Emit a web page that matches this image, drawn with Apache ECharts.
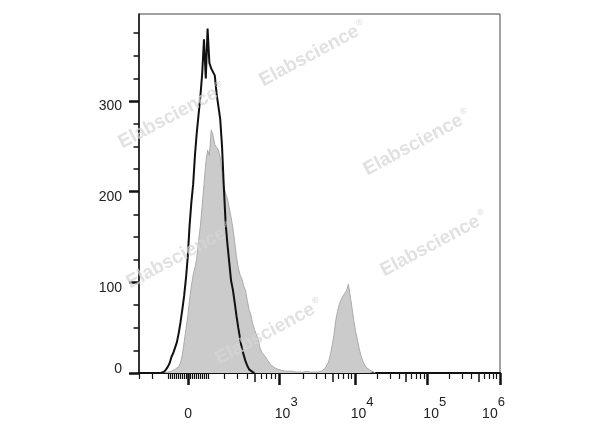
<!DOCTYPE html>
<html><head><meta charset="utf-8">
<script src="https://cdn.jsdelivr.net/npm/echarts@6/dist/echarts.min.js"></script>
<style>html,body{margin:0;padding:0;background:#fff}#c{width:600px;height:427px}</style>
</head><body><div id="c"></div>
<script>
// ---------------- data ----------------
// histogram bins on a 0..1000 display-channel axis (biexponential display)
const binStart = 60;
const binWidth = 5;
const stainedCounts = [
  0,0,0.5,1,1,2,2,3,4,5,7,11,20,34,48,62,80,96,108,116,
  126,146,162,185,208,232,246,240,268,262,252,250,246,238,220,206,198,192,182,172,
  160,145,128,116,108,104,96,91,80,70,64,54,48,42,37,28,23,21,18,15,
  12,9,7,6,5,4,3,3,2,
  2,2,2,1,2,1,1,2,1,1,1,1,2,1,1,1,1,1,1,
  1,2,3,5,7,12,20,30,42,58,68,76,81,85,88,91,98,85,72,58,
  46,37,27,19,13,9,6,4,3,2,1,0
];
const controlCounts = [
  0,0.5,1.5,4,7,11,18,22,28,34,44,56,70,85,104,128,162,188,208,240,
  265,285,305,330,368,325,380,342,336,338,328,308,310,280,250,205,165,142,122,102,
  92,78,63,50,38,27,20,13,8,4,2,1,0
];
const yMax = 396;
const yLabelValues = [0, 100, 200, 300];
const yMinorValues = [25,50,75,125,150,175,225,250,275,325,350,375];
const xMajorValues = [0, 1e3, 1e4, 1e5, 1e6];
const xMajorExps = ['', '3', '4', '5', '6'];
const xMidValues = [500, 5e3, 5e4, 5e5];
const xMinorValues = [-300,-200,-100,-90,-80,-70,-60,-50,-40,-30,-20,-10,
  10,20,30,40,50,60,70,80,90,100,200,300,400,600,700,800,900,
  2e3,3e3,4e3,6e3,7e3,8e3,9e3,2e4,3e4,4e4,6e4,7e4,8e4,9e4,
  2e5,3e5,4e5,6e5,7e5,8e5,9e5];
const watermarkText = 'Elabscience';

// ---------------- biexponential (logicle-like) scale ----------------
const T = 1e6, M = 4.8, W = 0.48, A = 0.2, CH_MAX = 1000;
const LN10 = Math.LN10, wN = W * LN10, mN = M * LN10;
function solveP(w) {
  let lo = 1.000001, hi = 100;
  for (let i = 0; i < 200; i++) {
    const mid = (lo + hi) / 2;
    const f = 2 * mid * Math.log(mid) / (mid + 1);
    if (f < w) lo = mid; else hi = mid;
  }
  return (lo + hi) / 2;
}
const P = solveP(wN);
function S(d) {
  const x = d * LN10;
  if (x >= wN) return T * Math.exp(-(mN - wN)) * (Math.exp(x - wN) - P * P * Math.exp(-(x - wN) / P) + P * P - 1);
  return -S(2 * W - d);
}
function valueToChannel(v) {
  let lo = -A - 2, hi = M + 1;
  for (let i = 0; i < 100; i++) {
    const mid = (lo + hi) / 2;
    if (S(mid) < v) lo = mid; else hi = mid;
  }
  const d = (lo + hi) / 2;
  return (d + A) / (M + A) * CH_MAX;
}
const majorCh = xMajorValues.map(valueToChannel);
const midCh = xMidValues.map(valueToChannel);
const minorCh = xMinorValues.map(valueToChannel);

const stainedData = stainedCounts.map((c, i) => [binStart + i * binWidth, c]);
const controlData = controlCounts.map((c, i) => [binStart + i * binWidth, c]);

const FONT = '"Liberation Sans", Arial, Helvetica, sans-serif';
const TXT = '#222';

function baseX(extra) {
  return Object.assign({
    type: 'value', min: 0, max: CH_MAX, position: 'bottom', offset: 0,
    axisLine: { show: false, onZero: false },
    splitLine: { show: false },
    axisLabel: { show: false },
    axisTick: { show: false }
  }, extra);
}

const xAxes = [
  baseX({
    axisLine: { show: true, onZero: false, lineStyle: { color: '#111', width: 2 } },
    axisTick: { show: true, customValues: majorCh, length: 12, lineStyle: { color: '#111', width: 2.5 } },
    axisLabel: {
      show: true, customValues: majorCh, margin: 23, color: TXT, fontFamily: FONT, fontSize: 14,
      formatter: function (v) {
        let idx = 0, best = 1e9;
        majorCh.forEach((c, i) => { if (Math.abs(c - v) < best) { best = Math.abs(c - v); idx = i; } });
        const e = xMajorExps[idx];
        if (!e) return '{z|0}';
        if (idx === xMajorExps.length - 1) return '{t0|10}{supR|' + e + '}';
        return '{t|10}{sup|' + e + '}';
      },
      rich: {
        z: { fontSize: 14, fontFamily: FONT, color: TXT, padding: [11, 0, 0, 0], verticalAlign: 'bottom' },
        t: { fontSize: 14, fontFamily: FONT, color: TXT, padding: [0, 0, 0, 14], verticalAlign: 'bottom' },
        t0: { fontSize: 14, fontFamily: FONT, color: TXT, verticalAlign: 'bottom' },
        sup: { fontSize: 13, fontFamily: FONT, color: TXT, padding: [0, 0, 12, 0], verticalAlign: 'bottom' },
        supR: { fontSize: 13, fontFamily: FONT, color: TXT, padding: [0, 13, 12, 0], verticalAlign: 'bottom' }
      }
    }
  }),
  baseX({ axisTick: { show: true, customValues: midCh, length: 9, lineStyle: { color: '#111', width: 1.5 } } }),
  baseX({ axisTick: { show: true, customValues: minorCh, length: 6, lineStyle: { color: '#111', width: 1.2 } } })
];

const yAxes = [
  {
    type: 'value', min: 0, max: yMax, position: 'left', offset: 0,
    axisLine: { show: true, onZero: false, lineStyle: { color: '#111', width: 1.5 } },
    splitLine: { show: false },
    axisTick: { show: true, customValues: yLabelValues, length: 10, lineStyle: { color: '#111', width: 2.5 } },
    axisLabel: {
      show: true, customValues: yLabelValues, margin: 17, color: TXT, fontFamily: FONT, fontSize: 14,
      formatter: v => (v === 0 ? '{z|0}' : '{n|' + v + '}'),
      rich: {
        n: { fontSize: 14, fontFamily: FONT, color: TXT, padding: [11, 0, 0, 0] },
        z: { fontSize: 14, fontFamily: FONT, color: TXT, padding: [0, 0, 7, 0] }
      }
    }
  },
  {
    type: 'value', min: 0, max: yMax, position: 'left', offset: 0,
    axisLine: { show: false },
    splitLine: { show: false },
    axisLabel: { show: false },
    axisTick: { show: true, customValues: yMinorValues, length: 5.5, lineStyle: { color: '#111', width: 1.5 } }
  }
];

const wmPos = [[313, 54], [172, 116], [417, 143], [180, 256], [269, 332], [434, 244]];
const wmFill = 'rgba(214,214,214,0.72)';
const graphics = wmPos.map(p => ({
  type: 'text', x: p[0], y: p[1], rotation: 0.49, z: 100, silent: true,
  style: {
    text: watermarkText + '{r|®}', fill: wmFill, font: 'bold 19px ' + FONT,
    align: 'center', verticalAlign: 'middle',
    rich: { r: { fontSize: 9, fontWeight: 'bold', fill: wmFill, padding: [0, 0, 12, 2] } }
  }
}));

const chart = echarts.init(document.getElementById('c'), null, { renderer: 'canvas' });
chart.setOption({
  animation: false,
  backgroundColor: '#fff',
  grid: { left: 139, right: 100, top: 14, bottom: 54, show: true, borderColor: '#444', borderWidth: 1, backgroundColor: 'transparent' },
  xAxis: xAxes,
  yAxis: yAxes,
  graphic: graphics,
  series: [
    {
      type: 'line', xAxisIndex: 0, yAxisIndex: 0, data: stainedData, symbol: 'none', z: 2,
      lineStyle: { color: '#ababab', width: 1 },
      areaStyle: { color: '#cbcbcb', opacity: 1 }
    },
    {
      type: 'line', xAxisIndex: 0, yAxisIndex: 0, data: controlData, symbol: 'none', z: 3,
      lineStyle: { color: '#111', width: 2 }
    }
  ]
});
</script>
</body></html>
